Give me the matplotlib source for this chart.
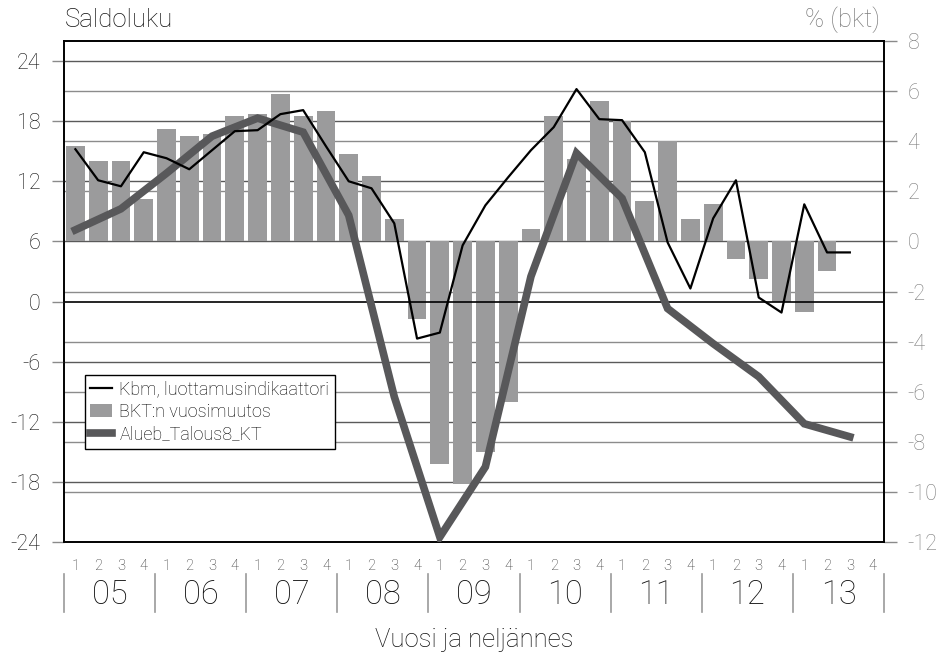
import matplotlib
matplotlib.use("Agg")
import matplotlib.pyplot as plt
from matplotlib.transforms import blended_transform_factory
from matplotlib.lines import Line2D
from matplotlib.patches import Patch
import numpy as np

plt.rcParams['font.family'] = ['Roboto', 'DejaVu Sans']
plt.rcParams['font.weight'] = 'light'

years = ['05', '06', '07', '08', '09', '10', '11', '12', '13']
quarters = ['1', '2', '3', '4']

# Kbm, luottamusindikaattori (saldoluku), 2005Q1 .. 2013Q3
kbm = [15.2, 12.1, 11.5, 14.9, 14.3, 13.2, 15.1, 17.0, 17.1, 18.7, 19.1, 15.5,
       12.0, 11.3, 7.8, -3.7, -3.1, 5.6, 9.6, 12.4, 15.1, 17.4, 21.2, 18.2,
       18.1, 14.9, 5.9, 1.3, 8.3, 12.1, 0.4, -1.1, 9.7, 4.9, 4.9]

# BKT:n vuosimuutos (%), 2005Q1 .. 2013Q2
bkt = [3.8, 3.2, 3.2, 1.7, 4.5, 4.2, 4.3, 5.0, 5.1, 5.9, 5.0, 5.2,
       3.5, 2.6, 0.9, -3.1, -8.9, -9.7, -8.4, -6.4, 0.5, 5.0, 3.3, 5.6,
       4.8, 1.6, 4.0, 0.9, 1.5, -0.7, -1.5, -2.4, -2.8, -1.2]

# Alueb_Talous8_KT (saldoluku), every Q1 and Q3, 2005Q1 .. 2013Q3
alueb_q = [0, 2, 4, 6, 8, 10, 12, 14, 16, 18, 20, 22, 24, 26, 28, 30, 32, 34]
alueb = [7.15, 9.25, 12.8, 16.5, 18.3, 16.9, 8.6, -9.5, -23.5, -16.5, 2.5,
         14.8, 10.3, -0.7, -4.2, -7.5, -12.2, -13.5]

left_ticks = [-24, -18, -12, -6, 0, 6, 12, 18, 24]
right_ticks = [-12, -10, -8, -6, -4, -2, 0, 2, 4, 6, 8]

n_q = len(years) * 4

fig = plt.figure(figsize=(9.45, 6.54), dpi=100)
ax = fig.add_axes([64/945, 1-542/654, 820/945, 501/654])
ax2 = ax.twinx()

# ---- host axes: bars on right (%) scale
ax.set_ylim(-12, 8)
ax.set_xlim(-0.5, n_q - 0.5)
ax2.set_ylim(-24, 26)

# right-scale gridlines
for v in right_ticks:
    if v in (-12, 8, 0):
        continue
    ax.axhline(v, color='#8c8c8c', lw=1.0, zorder=0.5)
# left-scale gridlines, drawn in host so they are below the bars
tr = blended_transform_factory(ax.transAxes, ax2.transData)
for v in left_ticks:
    if v == -24:
        continue
    if v == 0:
        ax.plot([0, 1], [v, v], transform=tr, color='black', lw=1.2, zorder=3)
    else:
        ax.plot([0, 1], [v, v], transform=tr, color='#5a5a5a', lw=1.0, zorder=0.6)

x_bkt = np.arange(len(bkt))
ax.bar(x_bkt, bkt, width=0.82, color='#9b9b9c', zorder=2)

ax.yaxis.tick_right()
ax.set_yticks(right_ticks)
ax.set_yticklabels([str(v) for v in right_ticks])
ax.tick_params(axis='y', colors='#8a8a8a', labelcolor='#7d7d7d', length=9, width=1,
               pad=8, labelsize=15.5)
ax.set_xticks([])

# ---- lines on left (saldoluku) scale
x_kbm = np.arange(len(kbm))
ax2.plot(alueb_q, alueb, color='#58585a', lw=5.5, solid_joinstyle='miter', zorder=3)
ax2.plot(x_kbm, kbm, color='black', lw=1.6, zorder=4)
ax2.yaxis.tick_left()
ax2.set_yticks(left_ticks)
ax2.set_yticklabels([str(v) for v in left_ticks])
ax2.tick_params(axis='y', colors='#8a8a8a', labelcolor='#111111', length=9, width=1,
                pad=8, labelsize=15.5)

for a in (ax, ax2):
    for s in a.spines.values():
        s.set_color('black')
        s.set_linewidth(1.2)

# ---- x labels
trx = blended_transform_factory(ax.transData, ax.transAxes)
for i in range(n_q):
    ax.text(i, -0.047, quarters[i % 4], transform=trx, ha='center', va='center',
            fontsize=10.5, color='#333333')
for k, y in enumerate(years):
    ax.text(4*k + 1.5, -0.106, y, transform=trx, ha='center', va='center',
            fontsize=23.5, color='#111111')
for k in range(len(years) + 1):
    ax.plot([4*k - 0.5, 4*k - 0.5], [-0.063, -0.14], transform=trx, color='#9a9a9a',
            lw=1.2, clip_on=False)
ax.text(0.5, -0.196, 'Vuosi ja neljännes', transform=ax.transAxes, ha='center',
        va='center', fontsize=18.5, color='#111111')

fig.text(65/945, 1-20/654, 'Saldoluku', ha='left', va='center', fontsize=18.5,
         color='#111111')
fig.text(880/945, 1-20/654, '% (bkt)', ha='right', va='center', fontsize=18.5,
         color='#7d7d7d')

handles = [Line2D([], [], color='black', lw=1.6),
           Patch(facecolor='#9b9b9c', edgecolor='none'),
           Line2D([], [], color='#58585a', lw=5.5)]
labels = ['Kbm, luottamusindikaattori', 'BKT:n vuosimuutos', 'Alueb_Talous8_KT']
leg = ax2.legend(handles, labels, loc='upper left', bbox_to_anchor=(21/820, 1-(375-41)/501),
                 borderaxespad=0, fontsize=13, frameon=True, fancybox=False,
                 handlelength=1.2, handletextpad=0.4, labelspacing=0.25,
                 borderpad=0.3, framealpha=1)
leg.get_frame().set_edgecolor('black')
leg.get_frame().set_linewidth(1.0)
leg.set_zorder(10)

fig.savefig('out.png', dpi=100)
